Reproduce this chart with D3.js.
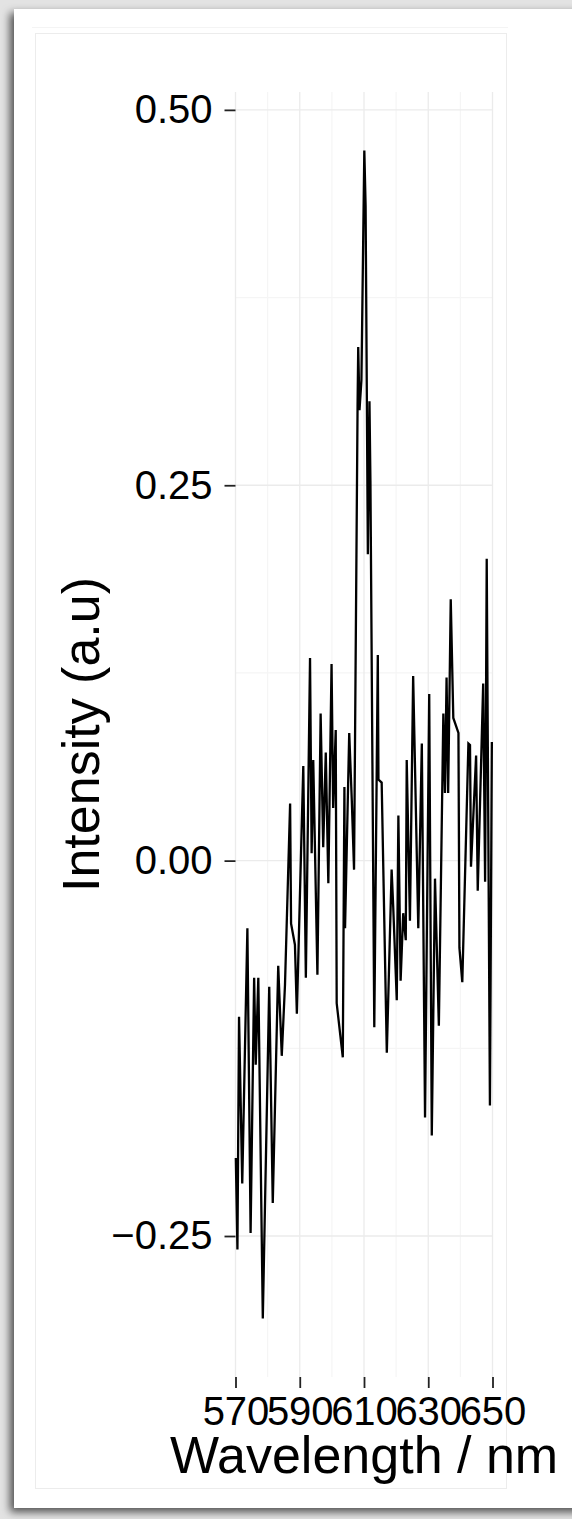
<!DOCTYPE html>
<html>
<head>
<meta charset="utf-8">
<script src="https://cdn.jsdelivr.net/npm/d3@7/dist/d3.min.js"></script>
<style>
  html, body { margin: 0; padding: 0; background: #e3e3e3; }
  svg { display: block; }
  text { font-family: "Liberation Sans", Arial, Helvetica, sans-serif; fill: #000; }
</style>
</head>
<body>
<svg id="chart" width="572" height="1519"></svg>
<script>
// Emission spectrum: wavelength (nm) and baseline-corrected intensity (a.u.)
const wavelength = [
  570.1, 570.6, 571.1, 572.1, 573.7, 574.7, 575.8, 576.3, 577.1, 578.5,
  580.5, 581.6, 583.3, 584.4, 585.4, 587.0, 587.3, 588.5, 589.1, 591.1,
  591.9, 593.2, 593.7, 594.2, 595.5, 596.5, 597.3, 598.1, 598.9, 599.9,
  600.4, 601.2, 601.5, 603.4, 603.9, 604.1, 605.4, 606.2, 606.9, 608.0,
  608.2, 608.6, 609.2, 610.1, 610.5, 611.2, 611.7, 612.0, 613.2, 614.3,
  614.5, 615.5, 617.1, 618.6, 619.1, 620.2, 620.7, 621.4, 622.2, 623.0,
  623.3, 624.3, 625.3, 626.9, 628.0, 629.0, 630.3, 631.1, 632.1, 633.3,
  634.7, 635.2, 635.7, 636.2, 637.0, 637.8, 639.4, 639.7, 640.6, 642.5,
  643.0, 643.3, 644.9, 645.4, 647.1, 647.7, 648.2, 649.2, 649.8
];
const intensity = [
  -0.198, -0.259, -0.104, -0.215, -0.045, -0.248, -0.078, -0.136, -0.078, -0.305,
  -0.084, -0.228, -0.070, -0.130, -0.083, 0.038, -0.042, -0.056, -0.102, 0.063,
  -0.078, 0.135, 0.005, 0.067, -0.076, 0.098, 0.009, 0.072, -0.015, 0.131,
  0.035, 0.087, -0.095, -0.131, 0.049, -0.045, 0.085, 0.040, -0.006, 0.303,
  0.342, 0.300, 0.320, 0.473, 0.436, 0.204, 0.306, 0.253, -0.111, 0.137,
  0.054, 0.052, -0.128, -0.006, -0.031, -0.093, 0.030, -0.080, -0.035, -0.053,
  0.067, -0.040, 0.123, -0.045, 0.078, -0.171, 0.111, -0.183, -0.012, -0.110,
  0.098, 0.045, 0.122, 0.045, 0.174, 0.095, 0.085, -0.058, -0.081, 0.078,
  0.077, -0.004, 0.070, -0.020, 0.118, -0.014, 0.201, -0.163, 0.079
];

const xTicks = [570, 590, 610, 630, 650];
const xMinor = [580, 600, 620, 640];
const yTicks = [0.50, 0.25, 0.00, -0.25];
const yTickLabels = ["0.50", "0.25", "0.00", "\u22120.25"];
const yMinor = [0.375, 0.125, -0.125];

const xTitle = "Wavelength / nm";
const yTitle = "Intensity (a.u)";

const svg = d3.select("#chart");

// Page card with a soft shadow toward the lower left
const defs = svg.append("defs");
const shadow = defs.append("filter").attr("id", "cardShadow")
  .attr("x", "-5%").attr("y", "-5%").attr("width", "115%").attr("height", "110%");
shadow.append("feDropShadow")
  .attr("dx", -4).attr("dy", 4).attr("stdDeviation", 4)
  .attr("flood-color", "#000").attr("flood-opacity", 0.65);

svg.append("rect").attr("x", 0).attr("y", 0).attr("width", 572).attr("height", 1519)
  .attr("fill", "#e3e3e3");
svg.append("rect").attr("x", 14).attr("y", 9).attr("width", 620).attr("height", 1499)
  .attr("fill", "#fff").attr("filter", "url(#cardShadow)");
svg.append("line").attr("x1", 32).attr("x2", 508).attr("y1", 27.5).attr("y2", 27.5)
  .attr("stroke", "#f4f4f4").attr("stroke-width", 1);
svg.append("rect").attr("x", 35.5).attr("y", 33.5).attr("width", 471).attr("height", 1455)
  .attr("fill", "#fff").attr("stroke", "#ececec").attr("stroke-width", 1);

// Panel geometry
const panel = { left: 235.5, right: 492.5, top: 92, bottom: 1377 };

const x = d3.scaleLinear().domain([570, 650]).range([panel.left, panel.right]);

// y limits follow the data range with a 5% margin on each side
const [yMin, yMax] = d3.extent(intensity);
const pad = (yMax - yMin) * 0.05;
const y = d3.scaleLinear().domain([yMin - pad, yMax + pad]).range([panel.bottom, panel.top]);

const grid = svg.append("g");
// minor grid
grid.selectAll(".vminor").data(xMinor).join("line")
  .attr("x1", d => x(d)).attr("x2", d => x(d))
  .attr("y1", panel.top).attr("y2", panel.bottom)
  .attr("stroke", "#f5f5f5").attr("stroke-width", 1.2);
grid.selectAll(".hminor").data(yMinor).join("line")
  .attr("y1", d => y(d)).attr("y2", d => y(d))
  .attr("x1", panel.left).attr("x2", panel.right)
  .attr("stroke", "#f5f5f5").attr("stroke-width", 1.2);
// major grid
grid.selectAll(".vmajor").data(xTicks).join("line")
  .attr("x1", d => x(d)).attr("x2", d => x(d))
  .attr("y1", panel.top).attr("y2", panel.bottom)
  .attr("stroke", "#ebebeb").attr("stroke-width", 1.3);
grid.selectAll(".hmajor").data(yTicks).join("line")
  .attr("y1", d => y(d)).attr("y2", d => y(d))
  .attr("x1", panel.left).attr("x2", panel.right)
  .attr("stroke", "#ebebeb").attr("stroke-width", 1.3);

// spectrum trace
const pts = wavelength.map((w, i) => [w, intensity[i]]);
svg.append("path")
  .datum(pts)
  .attr("fill", "none")
  .attr("stroke", "#000")
  .attr("stroke-width", 2.3)
  .attr("stroke-linejoin", "miter")
  .attr("stroke-miterlimit", 4)
  .attr("d", d3.line().x(d => x(d[0])).y(d => y(d[1])));

// axes
const xAxis = svg.append("g")
  .attr("transform", `translate(0,${panel.bottom})`)
  .call(d3.axisBottom(x).tickValues(xTicks).tickSize(11).tickPadding(9).tickFormat(d3.format("d")));
const yAxis = svg.append("g")
  .attr("transform", `translate(${panel.left},0)`)
  .call(d3.axisLeft(y).tickValues(yTicks).tickSize(11).tickPadding(12)
    .tickFormat((d, i) => yTickLabels[i]));

[xAxis, yAxis].forEach(g => {
  g.select(".domain").remove();
  g.selectAll(".tick line").attr("stroke", "#222").attr("stroke-width", 1.8);
  g.selectAll(".tick text")
    .attr("font-family", "'Liberation Sans', Arial, Helvetica, sans-serif")
    .attr("font-size", 40).attr("fill", "#000");
});

// axis titles
svg.append("text")
  .attr("x", (panel.left + panel.right) / 2)
  .attr("y", 1473)
  .attr("text-anchor", "middle")
  .attr("font-size", 52)
  .text(xTitle);

svg.append("text")
  .attr("transform", `translate(99,${(panel.top + panel.bottom) / 2}) rotate(-90)`)
  .attr("text-anchor", "middle")
  .attr("font-size", 52)
  .text(yTitle);
</script>
</body>
</html>
